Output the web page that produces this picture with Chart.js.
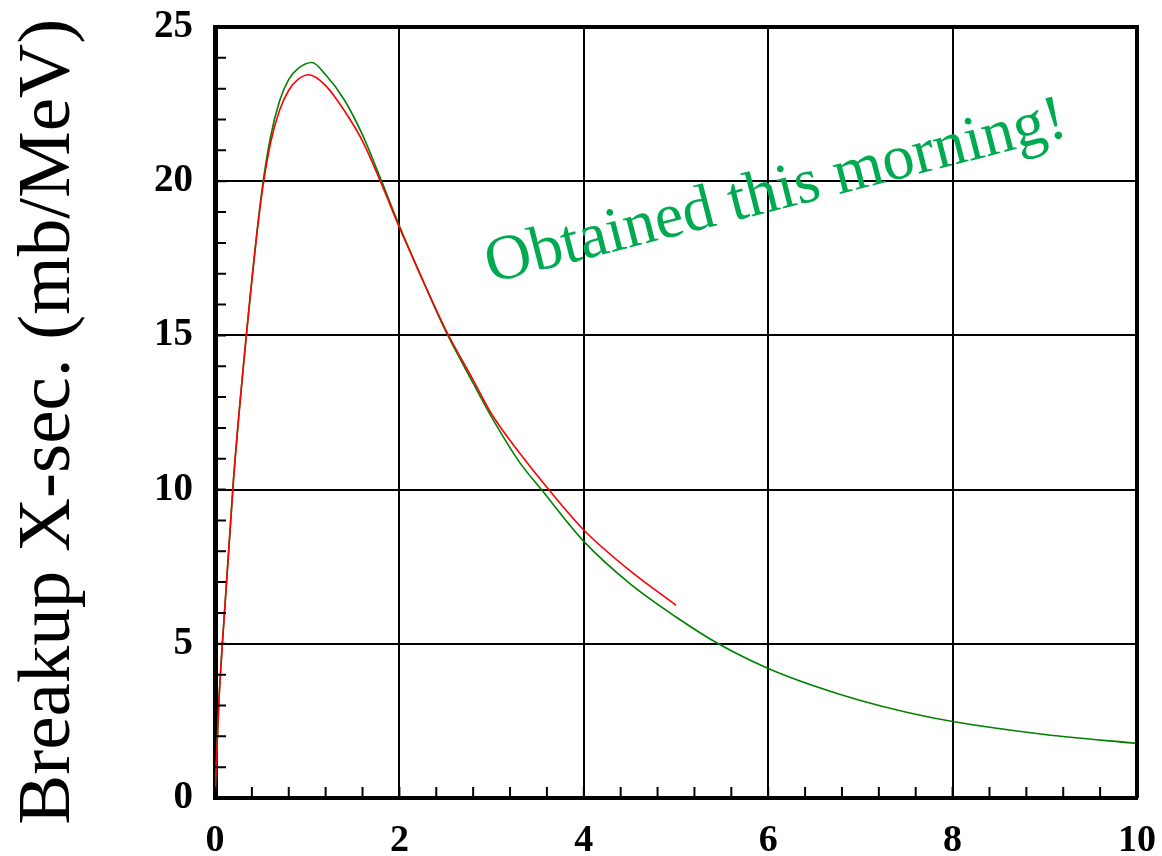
<!DOCTYPE html>
<html lang="en">
<head>
  <meta charset="UTF-8" />
  <title>Breakup X-sec.</title>
  <script src="https://cdn.jsdelivr.net/npm/chart.js"></script>
  <style>
    html, body { margin: 0; padding: 0; background: #fff; }
    #wrap { width: 1162px; height: 856px; }
  </style>
</head>
<body>
  <div id="wrap"><canvas id="xsecChart"></canvas></div>

  <script>
    // values (x in MeV, y in mb/MeV)
    const energyGreen = [0, 0.04, 0.08, 0.2, 0.34, 0.5, 0.6, 0.7, 0.8, 0.9, 1.05, 1.2, 1.4, 1.6, 1.8, 2.0, 2.2, 2.5, 2.8, 3.0, 3.3, 3.54, 4.0, 4.5, 5.0, 5.46, 6.0, 6.5, 7.0, 7.5, 8.0, 9.0, 10.0];
    const xsecGreen   = [0, 3.0, 5.0, 10.3, 15.0, 19.5, 21.4, 22.6, 23.3, 23.65, 23.85, 23.45, 22.65, 21.5, 20.05, 18.55, 17.15, 15.15, 13.45, 12.35, 10.9, 10.0, 8.32, 6.95, 5.87, 5.0, 4.2, 3.63, 3.16, 2.78, 2.48, 2.06, 1.77];

    const energyRed = [0, 0.04, 0.08, 0.2, 0.34, 0.5, 0.6, 0.7, 0.8, 0.9, 1.02, 1.2, 1.4, 1.6, 1.8, 2.0, 2.2, 2.5, 2.8, 3.0, 3.3, 3.62, 4.0, 4.5, 5.0];
    const xsecRed   = [0, 3.0, 5.0, 10.3, 15.0, 19.4, 21.2, 22.3, 22.95, 23.3, 23.45, 23.1, 22.3, 21.3, 19.95, 18.5, 17.15, 15.2, 13.55, 12.45, 11.2, 10.0, 8.69, 7.37, 6.25];

    const xTickLabels = ['0', '2', '4', '6', '8', '10'];
    const yTickLabels = ['0', '5', '10', '15', '20', '25'];
    const yTitle = 'Breakup X-sec. (mb/MeV) ';
    const noteText = 'Obtained this morning!';

    const serif = "'Liberation Serif', 'Times New Roman', serif";

    function toPoints(xs, ys) {
      return xs.map((x, i) => ({ x: x, y: ys[i] }));
    }

    // frame, inner minor ticks and the green note
    const framePlugin = {
      id: 'frame',
      afterDraw(chart) {
        const ctx = chart.ctx;
        const area = chart.chartArea;
        const xs = chart.scales.x;
        const ys = chart.scales.y;
        ctx.save();
        ctx.strokeStyle = '#000';
        ctx.lineWidth = 2;
        ctx.beginPath();
        xs.ticks.forEach(t => {
          const px = xs.getPixelForValue(t.value);
          ctx.moveTo(px, area.bottom);
          ctx.lineTo(px, area.bottom - 11);
        });
        ys.ticks.forEach(t => {
          const py = ys.getPixelForValue(t.value);
          ctx.moveTo(area.left, py);
          ctx.lineTo(area.left + 11, py);
        });
        ctx.stroke();

        ctx.lineWidth = 4;
        ctx.beginPath();
        ctx.moveTo(area.left, area.top);
        ctx.lineTo(area.right, area.top);
        ctx.lineTo(area.right, area.bottom);
        ctx.stroke();

        // note
        ctx.translate(xs.getPixelForValue(2.99), ys.getPixelForValue(16.7));
        ctx.rotate(-14.3 * Math.PI / 180);
        ctx.fillStyle = '#00aa50';
        ctx.font = '64px ' + serif;
        ctx.textAlign = 'left';
        ctx.textBaseline = 'alphabetic';
        ctx.fillText(noteText, 0, 0);
        ctx.restore();
      }
    };

    const chart = new Chart(document.getElementById('xsecChart'), {
      type: 'line',
      data: {
        datasets: [
          {
            label: 'red',
            data: toPoints(energyRed, xsecRed),
            borderColor: '#ff0000',
            borderWidth: 1.6,
            pointRadius: 0,
            cubicInterpolationMode: 'monotone',
            fill: false
          },
          {
            label: 'green',
            data: toPoints(energyGreen, xsecGreen),
            borderColor: '#008000',
            borderWidth: 1.6,
            pointRadius: 0,
            cubicInterpolationMode: 'monotone',
            fill: false
          }
        ]
      },
      options: {
        responsive: true,
        maintainAspectRatio: false,
        animation: false,
        layout: { padding: { top: 27, right: 25, left: 0, bottom: 0 } },
        plugins: {
          legend: { display: false },
          tooltip: { enabled: false }
        },
        scales: {
          x: {
            type: 'linear',
            min: 0,
            max: 10,
            afterFit: s => { s.height = 58; s.paddingLeft = 0; s.paddingRight = 0; },
            border: { color: '#000', width: 4 },
            grid: {
              drawTicks: false,
              lineWidth: 2,
              color: c => xTickLabels.includes(String(c.tick.value)) ? '#000' : 'rgba(0,0,0,0)'
            },
            ticks: {
              stepSize: 0.4,
              autoSkip: false,
              maxRotation: 0,
              padding: 20,
              color: '#000',
              font: { family: serif, size: 38, weight: 'bold' },
              callback: v => xTickLabels.includes(String(v)) ? String(v) : ''
            }
          },
          y: {
            min: 0,
            max: 25,
            afterFit: s => { s.width = 215; s.paddingTop = 0; s.paddingBottom = 0; },
            border: { color: '#000', width: 5 },
            grid: {
              drawTicks: false,
              lineWidth: 2,
              color: c => yTickLabels.includes(String(c.tick.value)) ? '#000' : 'rgba(0,0,0,0)'
            },
            ticks: {
              stepSize: 1,
              autoSkip: false,
              padding: 22,
              color: '#000',
              font: { family: serif, size: 39, weight: 'bold' },
              callback: v => yTickLabels.includes(String(v)) ? String(v) : ''
            },
            title: {
              display: true,
              text: yTitle,
              color: '#000',
              padding: { top: 4, bottom: 0 },
              font: { family: serif, size: 75, weight: 'normal' }
            }
          }
        }
      },
      plugins: [framePlugin]
    });
  </script>
</body>
</html>
